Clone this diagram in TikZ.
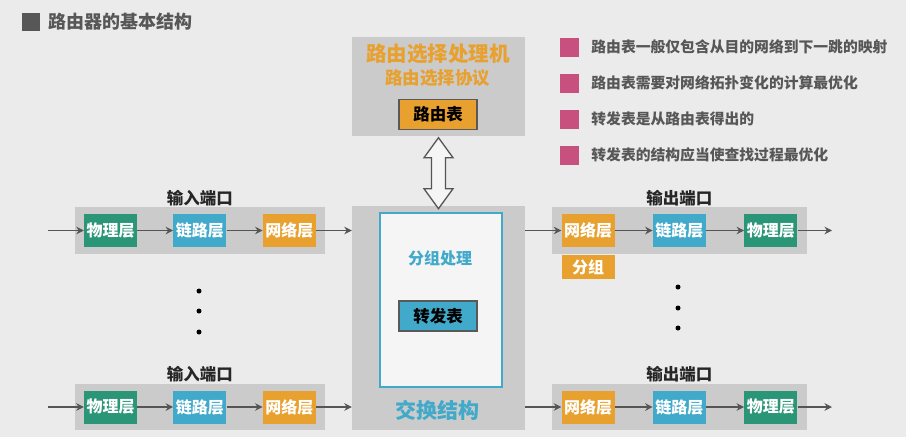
\documentclass[tikz,border=0pt]{standalone}
\usepackage{fontspec}
\setmainfont{Noto Sans CJK SC}
\usepackage{tikz}
\usetikzlibrary{arrows.meta,positioning,fit,backgrounds,calc}

\definecolor{bggray}{HTML}{EBEBEB}
\definecolor{panel}{HTML}{CBCBCB}
\definecolor{phygreen}{HTML}{2A9577}
\definecolor{lnkcyan}{HTML}{41A9C9}
\definecolor{netorange}{HTML}{E8A02E}
\definecolor{bulletpink}{HTML}{C8507E}
\definecolor{txtgray}{HTML}{575757}
\definecolor{arrgray}{HTML}{555555}

\newcommand{\fsz}[1]{\fontsize{#1}{#1}\selectfont\bfseries}

\begin{document}
\begin{tikzpicture}[x=1pt, y=-1pt,
  >={Stealth[length=7.5pt, width=7.5pt]},
  layer/.style={minimum width=53pt, minimum height=33pt, inner sep=0pt, text=white, font=\fsz{16}},
  phy/.style={layer, fill=phygreen},
  lnk/.style={layer, fill=lnkcyan},
  net/.style={layer, fill=netorange},
  band/.style={fill=panel, inner xsep=9pt, inner ysep=6.5pt},
  portlabel/.style={font=\fsz{16.5}, text=black!85, inner sep=1pt},
  flow/.style={->, draw=arrgray, line width=1.8pt},
  tablebox/.style={draw=black!65, line width=1.6pt, minimum width=78pt, minimum height=30pt, inner sep=0pt, font=\fsz{16.5}},
  panelbox/.style={fill=panel, minimum width=173pt, inner sep=0pt},
  bullet/.style={fill=bulletpink, minimum size=19pt, inner sep=0pt},
  note/.style={font=\fsz{14.8}, text=txtgray, inner sep=0pt},
  vdot/.style={circle, fill=black, minimum size=5pt, inner sep=0pt},
]
  \begin{scope}[on background layer]
    \fill[bggray] (0,0) rectangle (906,437);
  \end{scope}
  \useasboundingbox (0,0) rectangle (906,437);

  % title
  \node[fill=txtgray, minimum size=18pt, inner sep=0pt] (titlemark) at (31,22) {};
  \node[right=8pt of titlemark, font=\fsz{18}, text=txtgray, inner sep=0pt] (title) {路由器的基本结构};

  % routing processor
  \node[panelbox, minimum height=99pt] (rp) at (438.5,86) {};
  \node[font=\fsz{20.5}, text=netorange] (rptitle) at (438,54) {路由选择处理机};
  \node[font=\fsz{17.5}, text=netorange] (rproto) at (437.5,78) {路由选择协议};
  \node[tablebox, fill=netorange] (rtable) at (438,114.5) {路由表};

  % switch fabric
  \node[panelbox, minimum height=224pt] (fabric) at (438.5,318) {};
  \node[draw=lnkcyan, line width=2pt, fill=bggray!50!white, minimum width=122pt, minimum height=174pt] (proc) at (441,300) {};
  \node[font=\fsz{16}, text=lnkcyan] (proctitle) at (440,258) {分组处理};
  \node[tablebox, fill=lnkcyan] (ftable) at (438,316) {转发表};
  \node[font=\fsz{21}, text=lnkcyan] (fabtitle) at (437.5,410) {交换结构};

  % hollow double arrow between the two
  \draw[arrgray, line width=1.3pt, fill=bggray!50!white]
    ([yshift=-2pt]rp.south) -- ++(14.5,20) -- ++(-7.5,0) -- ++(0,31) -- ++(7.5,0)
    -- ++(-14.5,20) -- ++(-14.5,-20) -- ++(7.5,0) -- ++(0,-31) -- ++(-7.5,0) -- cycle;

  % input ports
  \node[phy] (in1phy) at (110.5,230.5) {物理层};
  \node[lnk, right=36pt of in1phy] (in1lnk) {链路层};
  \node[net, right=36pt of in1lnk] (in1net) {网络层};
  \node[phy] (in2phy) at (110.5,407) {物理层};
  \node[lnk, right=36pt of in2phy] (in2lnk) {链路层};
  \node[net, right=36pt of in2lnk] (in2net) {网络层};
  \coordinate (in1src) at (48,230.5);
  \coordinate (in2src) at (48,407);

  \draw[flow] (in1src) -- (in1phy); \draw[flow] (in1phy) -- (in1lnk);
  \draw[flow] (in1lnk) -- (in1net); \draw[flow] (in1net) -- (in1net -| fabric.west);
  \draw[flow] (in2src) -- (in2phy); \draw[flow] (in2phy) -- (in2lnk);
  \draw[flow] (in2lnk) -- (in2net); \draw[flow] (in2net) -- (in2net -| fabric.west);

  % output ports
  \node[net] (out1net) at (588,230.5) {网络层};
  \node[lnk, right=38pt of out1net] (out1lnk) {链路层};
  \node[phy, right=38pt of out1lnk] (out1phy) {物理层};
  \node[net] (out2net) at (588,407) {网络层};
  \node[lnk, right=38pt of out2net] (out2lnk) {链路层};
  \node[phy, right=38pt of out2lnk] (out2phy) {物理层};
  \node[net, minimum height=24pt, below=8pt of out1net] (pkt) {分组};
  \coordinate (out1dst) at (832,230.5);
  \coordinate (out2dst) at (832,407);

  \draw[flow] (fabric.east |- out1net) -- (out1net); \draw[flow] (out1net) -- (out1lnk);
  \draw[flow] (out1lnk) -- (out1phy); \draw[flow] (out1phy) -- (out1dst);
  \draw[flow] (fabric.east |- out2net) -- (out2net); \draw[flow] (out2net) -- (out2lnk);
  \draw[flow] (out2lnk) -- (out2phy); \draw[flow] (out2phy) -- (out2dst);

  \begin{scope}[on background layer]
    \node[band, fit=(in1phy)(in1net), label={[portlabel]above:输入端口}] (in1band) {};
    \node[band, fit=(in2phy)(in2net), label={[portlabel]above:输入端口}] (in2band) {};
    \node[band, fit=(out1net)(out1phy), label={[portlabel]above:输出端口}] (out1band) {};
    \node[band, fit=(out2net)(out2phy), label={[portlabel]above:输出端口}] (out2band) {};
  \end{scope}

  % more ports in between
  \foreach \y in {291,311,332} \node[vdot] at (199,\y) {};
  \foreach \y in {287,308,328} \node[vdot] at (678,\y) {};

  % notes
  \node[bullet] (b1) at (569.5,47) {};
  \node[bullet] (b2) at (569.5,83) {};
  \node[bullet] (b3) at (569.5,119) {};
  \node[bullet] (b4) at (569.5,155) {};
  \node[note, right=12pt of b1] (n1) {路由表一般仅包含从目的网络到下一跳的映射};
  \node[note, right=12pt of b2] (n2) {路由表需要对网络拓扑变化的计算最优化};
  \node[note, right=12pt of b3] (n3) {转发表是从路由表得出的};
  \node[note, right=12pt of b4] (n4) {转发表的结构应当使查找过程最优化};
\end{tikzpicture}
\end{document}
